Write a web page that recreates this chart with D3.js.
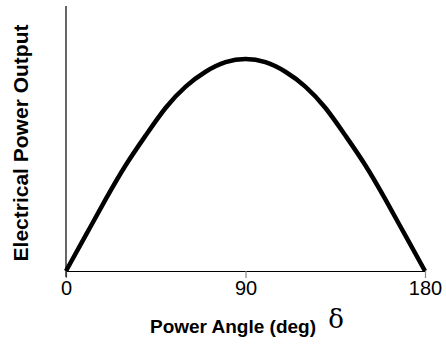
<!DOCTYPE html>
<html lang="en">
<head>
<meta charset="UTF-8">
<title>Power Angle Curve</title>
<style>
  body { margin: 0; background: #fff; }
  text { font-family: "Liberation Sans", Arial, sans-serif; fill: #000; }
</style>
</head>
<body>
<svg width="446" height="360"></svg>
<script src="https://d3js.org/d3.v7.min.js"></script>
<script>
  // power angle (deg) and relative electrical power
  var angles = [0, 10, 20, 30, 40, 50, 60, 70, 80, 90, 100, 110, 120, 130, 140, 150, 160, 170, 180];
  var power = [0, 0.17, 0.34, 0.50, 0.64, 0.77, 0.87, 0.94, 0.985, 1.0, 0.985, 0.94, 0.87, 0.77, 0.64, 0.50, 0.34, 0.17, 0];
  var xTicks = [0, 90, 180];

  var svg = d3.select("svg");
  var plot = {left: 66, right: 425, top: 6, bottom: 271};

  var x = d3.scaleLinear().domain([0, 180]).range([plot.left, plot.right]);
  var y = d3.scaleLinear().domain([0, 1.25]).range([plot.bottom, plot.top]);

  // x axis with downward ticks
  var xAxis = d3.axisBottom(x).tickValues(xTicks).tickSize(7).tickSizeOuter(0).tickPadding(3);
  var gx = svg.append("g").attr("transform", "translate(0," + plot.bottom + ")").call(xAxis);
  gx.select(".domain").attr("stroke", "#000").attr("stroke-width", 1.2);
  gx.selectAll(".tick line").attr("stroke", "#888").attr("stroke-width", 1.2);
  gx.selectAll(".tick text")
    .style("font-family", "'Liberation Sans', Arial, sans-serif")
    .style("font-size", "20px")
    .attr("fill", "#000");

  // y axis, no ticks
  svg.append("line")
    .attr("x1", plot.left).attr("x2", plot.left)
    .attr("y1", y(1.25)).attr("y2", plot.bottom + 6)
    .attr("stroke", "#000").attr("stroke-width", 1.2);

  var line = d3.line()
    .x(function(d, i) { return x(angles[i]); })
    .y(function(d) { return y(d); })
    .curve(d3.curveNatural);

  svg.append("path")
    .datum(power)
    .attr("d", line)
    .attr("fill", "none")
    .attr("stroke", "#000")
    .attr("stroke-width", 4.5);

  svg.append("text")
    .attr("x", 233).attr("y", 333)
    .attr("text-anchor", "middle")
    .style("font-weight", "bold")
    .style("font-size", "19px")
    .text("Power Angle (deg)");

  svg.append("text")
    .attr("x", 336).attr("y", 328)
    .attr("text-anchor", "middle")
    .style("font-family", "'DejaVu Serif', serif")
    .style("font-size", "26px")
    .text("δ");

  svg.append("text")
    .attr("transform", "translate(28,143) rotate(-90)")
    .attr("text-anchor", "middle")
    .style("font-weight", "bold")
    .style("font-size", "21px")
    .text("Electrical Power Output");
</script>
</body>
</html>
